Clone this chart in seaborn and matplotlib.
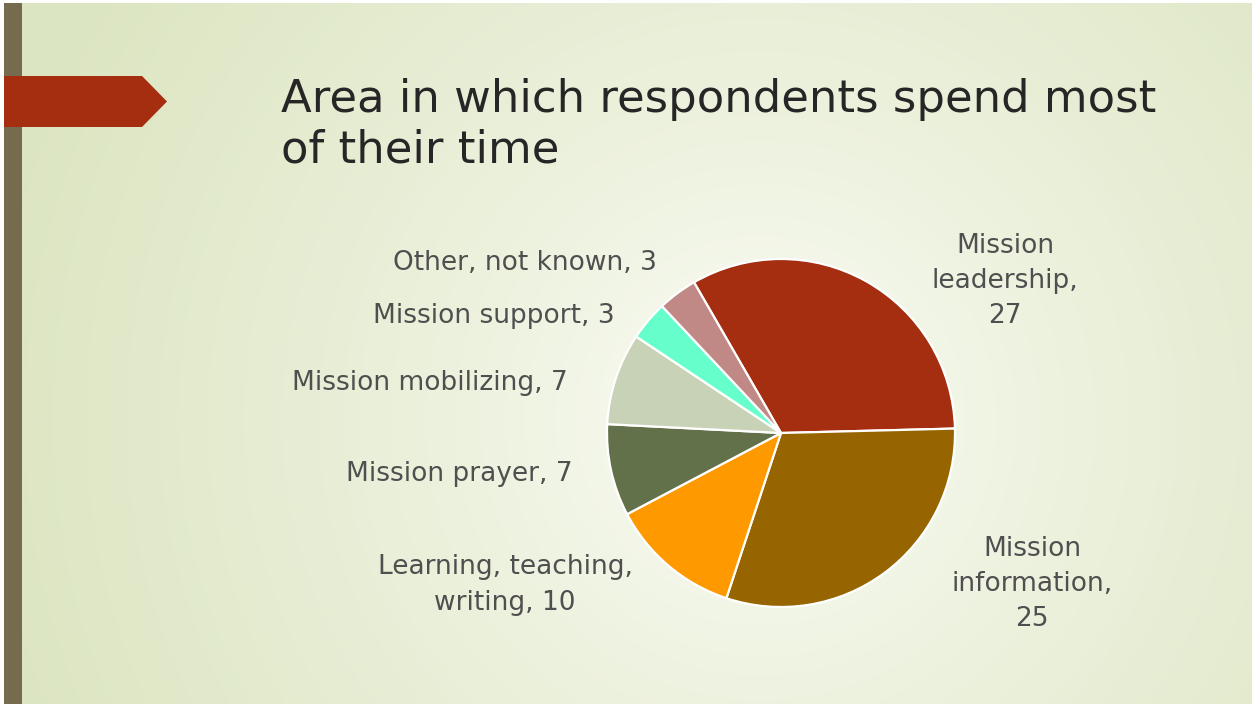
import numpy as np
import matplotlib
matplotlib.use("Agg")
import matplotlib.pyplot as plt
import matplotlib.colors as mcolors
from matplotlib.patches import Polygon, Rectangle
import seaborn as sns

# data
categories = ["Mission\nleadership", "Mission\ninformation", "Learning, teaching,\nwriting",
              "Mission prayer", "Mission mobilizing", "Mission support", "Other, not known"]
counts = [27, 25, 10, 7, 7, 3, 3]
slice_colors = ["#A52D10", "#976500", "#FF9900", "#627149", "#C8D2B6", "#66FFCC", "#C08985"]
title = "Area in which respondents spend most\nof their time"

sns.set_theme(style="white")
plt.rcParams["font.family"] = ["DejaVu Sans"]

W, H = 1252, 704
fig = plt.figure(figsize=(W / 100, H / 100), dpi=100)

# slide background: radial gradient, pale centre to light green edges
bg = fig.add_axes([0, 0, 1, 1])
yy, xx = np.mgrid[0:H, 0:W]
d = np.sqrt((xx - 760) ** 2 + (yy - 420) ** 2) / 800
d = np.clip(d, 0, 1) ** 0.75
c0 = np.array(mcolors.to_rgb("#FDFEFA"))
c1 = np.array(mcolors.to_rgb("#DCE5C1"))
img = c0[None, None, :] * (1 - d[..., None]) + c1[None, None, :] * d[..., None]
bg.imshow(img, extent=[0, W, H, 0], aspect="auto")
bg.set_xlim(0, W)
bg.set_ylim(H, 0)
bg.axis("off")

# white frame edges, left bar and arrow tab
bg.add_patch(Rectangle((0, 0), 4, H, color="white", lw=0))
bg.add_patch(Rectangle((0, 0), W, 3, color="white", lw=0))
bg.add_patch(Rectangle((4, 3), 18, H, color="#766A4F", lw=0))
bg.add_patch(Polygon([(4, 76), (142, 76), (167, 101.5), (142, 127), (4, 127)],
                     closed=True, color="#A52D10", lw=0))

bg.text(281, 78, title, fontsize=32.3, color="#262626", va="top", ha="left",
        linespacing=1.22)

# pie
ax = fig.add_axes([(781 - 174) / W, (H - 433 - 174) / H, 348 / W, 348 / H])
wedges, _ = ax.pie(counts, colors=sns.color_palette(slice_colors), startangle=120,
                   counterclock=False, radius=1,
                   wedgeprops=dict(edgecolor="white", linewidth=1.6))
ax.set_xlim(-1, 1)
ax.set_ylim(-1, 1)
ax.axis("off")

# label positions in pixel coords of the slide (centre of text block)
label_pos = [(1005, 281), (1032, 584), (505, 585), (459, 474), (430, 383), (494, 316), (525, 263)]
for cat, n, (px, py) in zip(categories, counts, label_pos):
    if cat.startswith("Mission\n"):
        txt = f"{cat},\n{n}"
    else:
        txt = f"{cat}, {n}"
    bg.text(px, py, txt, fontsize=19, color="#4F4F4F", ha="center", va="center",
            linespacing=1.45)

fig.savefig("out.png", dpi=100)
